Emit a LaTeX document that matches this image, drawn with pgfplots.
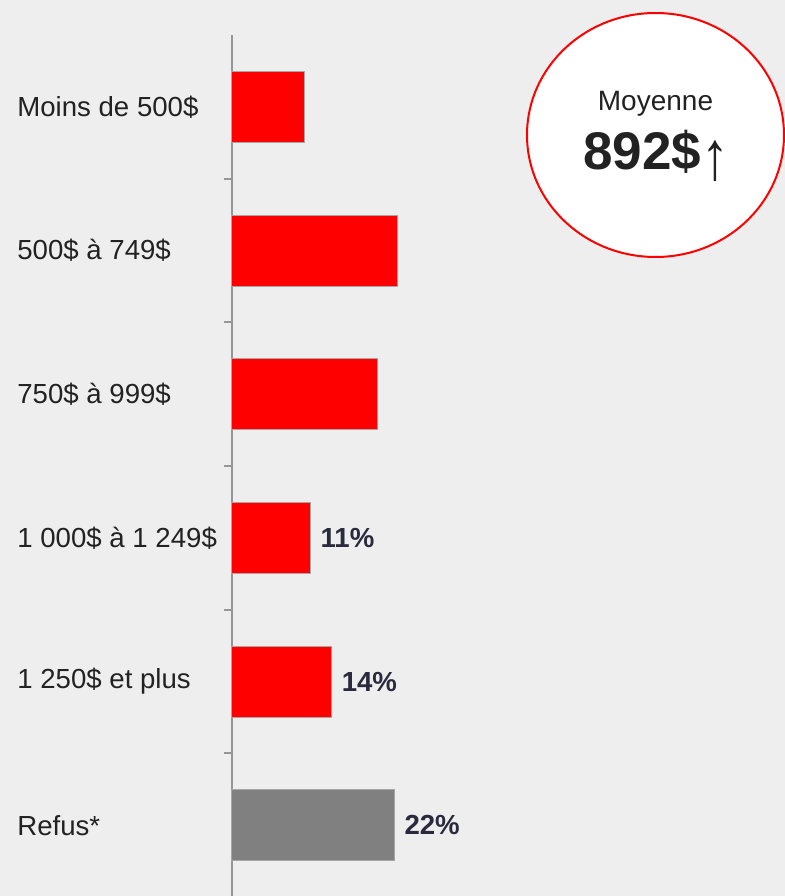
\documentclass[border=0pt]{standalone}
\usepackage{fontspec}
\setmainfont{Liberation Sans}
\usepackage{pgfplots}
\pgfplotsset{compat=1.18}
\definecolor{bg}{RGB}{238,238,238}
\definecolor{barred}{RGB}{255,0,0}
\definecolor{bargray}{RGB}{128,128,128}
\definecolor{axisgray}{RGB}{150,150,150}
\definecolor{txt}{RGB}{34,34,34}
\definecolor{lbl}{RGB}{42,42,62}
\begin{document}
\begin{tikzpicture}
\useasboundingbox (0,0) rectangle (392.5pt,448pt);
\fill[bg] (0,0) rectangle (392.5pt,448pt);
\begin{axis}[
 at={(116pt,-0.5pt)}, anchor=south west,
 scale only axis, width=182.5pt, height=431pt,
 xmin=0, xmax=50,
 ymin=-0.5, ymax=5.5, y dir=reverse,
 xbar, bar width=35.5pt,
 axis x line=none, axis y line*=left,
 y axis line style={axisgray, line width=1pt},
 ytick={0,...,5},
 yticklabels={Moins de 500\$, 500\$ à 749\$, 750\$ à 999\$, 1~000\$ à 1~249\$, 1~250\$ et plus, Refus*},
 major tick length=0pt,
 minor ytick={0.5,1.5,2.5,3.5,4.5},
 minor tick length=4pt,
 tick align=outside,
 minor tick style={axisgray, line width=1pt},
 /pgf/number format/assume math mode=true,
 yticklabel style={anchor=west, inner sep=0pt, xshift=-107.5pt, font=\fontsize{13.8}{16}\selectfont, text=txt},
 every node near coord/.append style={anchor=west, inner sep=0pt, xshift=5pt, font=\bfseries\fontsize{13.8}{16}\selectfont, text=lbl},
 clip=false,
]
\addplot[fill=barred, draw=black!35, line width=0.5pt, bar shift=0pt] coordinates {(10,0) (22.7,1) (20,2)};
\addplot[fill=barred, draw=black!35, line width=0.5pt, bar shift=0pt,
  point meta=explicit symbolic,
  nodes near coords={\pgfplotspointmeta\%}] coordinates {(10.7,3) [11] (13.6,4) [14]};
\addplot[fill=bargray, draw=black!35, line width=0.5pt, bar shift=0pt,
  point meta=explicit symbolic,
  nodes near coords={\pgfplotspointmeta\%}] coordinates {(22.2,5) [22]};
\end{axis}
\draw[red, line width=1pt, fill=white] (327.75pt,380.5pt) ellipse [x radius=64.25pt, y radius=61pt];
\node[text=txt, font=\fontsize{14}{16}\selectfont, anchor=base, inner sep=0pt] at (327.75pt,392.5pt) {Moyenne};
\node[text=txt, font=\fontsize{26.5}{30}\selectfont, anchor=base, inner sep=0pt] at (328pt,363pt) {{\bfseries 892\$}\raisebox{-5pt}{\scalebox{1.05}[1.3]{↑}}};
\end{tikzpicture}
\end{document}
